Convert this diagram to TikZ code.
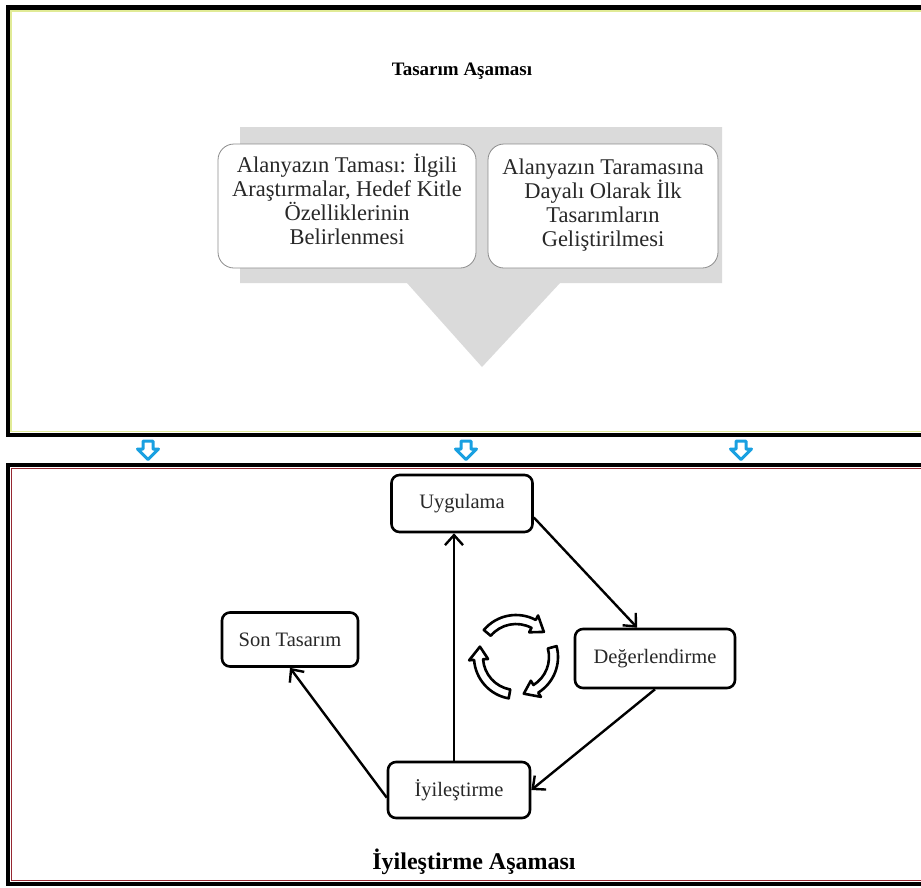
\documentclass[tikz,border=0pt]{standalone}
\usepackage{fontspec}
\setmainfont{Liberation Serif}
\usetikzlibrary{arrows.meta,calc}
\definecolor{framey}{RGB}{225,235,150}
\definecolor{framer}{RGB}{150,40,50}
\definecolor{bandgray}{RGB}{218,218,218}
\definecolor{arrowblue}{RGB}{25,160,225}
\definecolor{boxline}{RGB}{140,140,140}
\definecolor{txt}{RGB}{40,40,40}
\tikzset{
  bigbox/.style={draw=boxline, line width=0.8pt, fill=white, rounded corners=16pt, inner sep=0pt},
  bigtext/.style={align=center, text=txt, font=\fontsize{22.5}{24}\selectfont, inner sep=0pt},
  smallbox/.style={draw=black, line width=2.6pt, fill=white, rounded corners=8pt,
    text=txt, font=\fontsize{20.5}{23}\selectfont, inner sep=0pt},
  conn/.style={draw=black, line width=2.4pt, -{Straight Barb[length=10pt,width=18pt,line width=2.4pt]}},
  titlea/.style={font=\bfseries\fontsize{19}{22}\selectfont, text=black},
  titleb/.style={font=\bfseries\fontsize{24}{28}\selectfont, text=black},
  bluearrow/.style={draw=arrowblue, line width=3pt, fill=white, line join=round},
  cyclearrow/.style={draw=black, line width=2.6pt, fill=white, line join=round}
}
\begin{document}
\begin{tikzpicture}[x=1pt,y=-1pt]
\useasboundingbox (0,0) rectangle (921,887);
\fill[white] (0,0) rectangle (921,887);
\begin{scope}
\clip (0,0) rectangle (921,887);
% top frame
\draw[line width=4.5pt] (8,7.5) rectangle (940,435);
\draw[framey, line width=1.5pt] (11.2,10.8) rectangle (940,431.7);
% bottom frame
\draw[line width=4.5pt] (8,465) rectangle (940,884);
\draw[framer, line width=1.3pt] (11.2,468.2) rectangle (940,880.8);
\end{scope}

% blue down arrows
\foreach \cx in {148,466,741}{
  \draw[bluearrow] (\cx-5,441) -- (\cx+5,441) -- (\cx+5,449) -- (\cx+10.5,449)
     -- (\cx,459.5) -- (\cx-10.5,449) -- (\cx-5,449) -- cycle;
}

% top section
\node[titlea] (t1) at (462,71) {Tasarım Aşaması};
\fill[bandgray] (240,127) -- (722,127) -- (722,283) -- (560,283) -- (482,367)
   -- (407,283) -- (240,283) -- cycle;
\node[bigbox, minimum width=258pt, minimum height=124pt] (b1) at (347,206) {};
\node[bigtext] (b1t) at (347,199)
  {Alanyazın Taması: İlgili\\Araştırmalar, Hedef Kitle\\Özelliklerinin\\Belirlenmesi};
\node[bigbox, minimum width=230pt, minimum height=124pt] (b2) at (603,206) {};
\node[bigtext] (b2t) at (603,205)
  {Alanyazın Taramasına\\Dayalı Olarak İlk\\Tasarımların\\Geliştirilmesi};

% bottom section
\node[smallbox, minimum width=141pt, minimum height=57pt] (uyg) at (462,503.5) {Uygulama};
\node[smallbox, minimum width=160pt, minimum height=59pt] (deg) at (655,658.5) {Değerlendirme};
\node[smallbox, minimum width=136pt, minimum height=54pt] (son) at (290,639.5) {Son Tasarım};
\node[smallbox, minimum width=142pt, minimum height=56pt] (iyi) at (459,790) {İyileştirme};
\node[titleb] (t2) at (474,862) {İyileştirme Aşaması};

\draw[conn] (uyg.-11) -- (deg.120);
\draw[conn] (deg.south) -- (iyi.east);
\draw[conn] ([xshift=-5pt]iyi.north) -- ([xshift=-5pt]iyi.north |- uyg.south);
\draw[conn] (iyi.186) -- (son.south);

% cycle symbol
\begin{scope}[shift={(516,657)}]
\foreach \a/\b in {-140/-42,-15/78,100/196}{
  \pgfmathsetmacro\c{\b-20}
  \draw[cyclearrow] (\a:42) arc[start angle=\a, end angle=\c, radius=42]
     -- (\c:47) -- (\b:37.5) -- (\c:28) -- (\c:33)
     arc[start angle=\c, end angle=\a, radius=33] -- cycle;
}
\end{scope}
\end{tikzpicture}
\end{document}
